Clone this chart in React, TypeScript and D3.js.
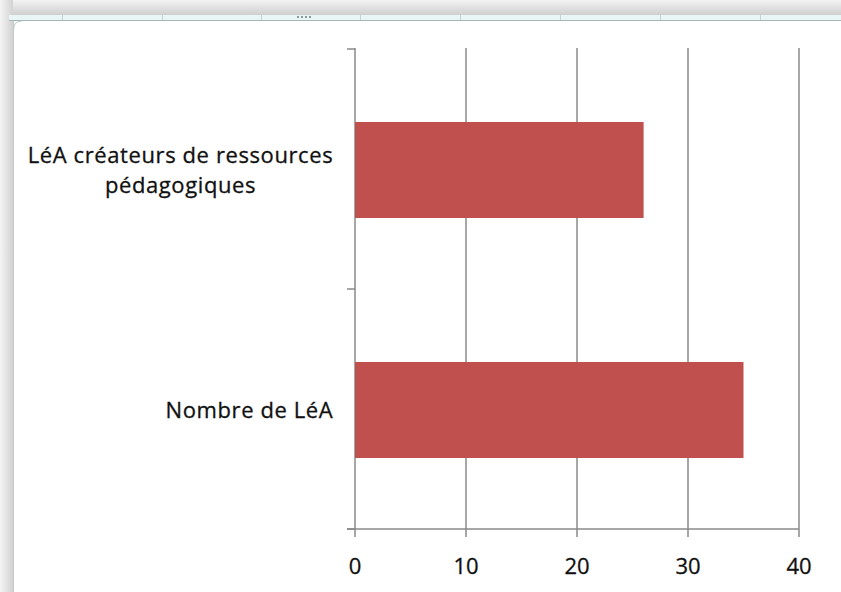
import React from "react";
import * as d3 from "d3";

const categories = ["LéA créateurs de ressources pédagogiques", "Nombre de LéA"];
const values = [26, 35];
const xTicks = [0, 10, 20, 30, 40];
const sheetColumnEdges = [62, 162, 261, 360, 460, 560, 660, 760];

const W = 841;
const H = 592;
const FONT = "'Open Sans', 'DejaVu Sans', sans-serif";
const FS = 22;
const LS = 0.6;

function measure(text: string): number {
  const c = document.createElement("canvas").getContext("2d");
  if (!c) return text.length * FS * 0.55;
  c.font = `${FS}px ${FONT}`;
  return c.measureText(text).width + LS * (text.length - 1);
}

function wrap(text: string, maxW: number): string[] {
  const words = text.split(" ");
  const lines: string[] = [];
  let cur = "";
  for (const w of words) {
    const t = cur ? cur + " " + w : w;
    if (measure(t) > maxW && cur) {
      lines.push(cur);
      cur = w;
    } else cur = t;
  }
  if (cur) lines.push(cur);
  return lines;
}

export default function App() {
  const x = d3.scaleLinear().domain([0, 40]).range([355, 799]);
  const y = d3.scaleBand<string>().domain(categories).range([49, 529]).padding(0);
  const bw = y.bandwidth();
  const labelRight = 333;
  const gridColor = "#8a8a8a";

  return (
    <svg
      width={W}
      height={H}
      style={{ position: "absolute", left: 0, top: 0, background: "#fff" }}
      fontFamily={FONT}
    >
      <defs>
        <linearGradient id="topShadow" x1="0" y1="0" x2="0" y2="1">
          <stop offset="0" stopColor="#f3f3f3" />
          <stop offset="1" stopColor="#cfcfcf" />
        </linearGradient>
        <linearGradient id="leftShadow" x1="0" y1="0" x2="1" y2="0">
          <stop offset="0" stopColor="#f4f4f4" />
          <stop offset="1" stopColor="#d2d2d2" />
        </linearGradient>
      </defs>
      <rect x={0} y={0} width={W} height={H} fill="#fff" />
      <rect x={0} y={0} width={W} height={15} fill="url(#topShadow)" />
      <rect x={0} y={0} width={13} height={H} fill="url(#leftShadow)" />
      <rect x={9} y={15} width={W - 9} height={5} fill="#e9f6f6" />
      {sheetColumnEdges.map((cx) => (
        <line key={cx} x1={cx + 0.5} x2={cx + 0.5} y1={15} y2={20} stroke="#c5d3d3" />
      ))}
      {[297, 301, 305, 309].map((dx) => (
        <rect key={dx} x={dx} y={16} width={2} height={2} fill="#8f9a9a" />
      ))}
      <line x1={9} x2={W} y1={20.5} y2={20.5} stroke="#aab4b4" />
      <line x1={13.5} x2={13.5} y1={21} y2={H} stroke="#c9c9c9" />
      <path d="M13.5,30 Q13.5,21 22,21" fill="none" stroke="#b9c9c9" />

      {xTicks.slice(1).map((t) => (
        <line key={t} x1={x(t)} x2={x(t)} y1={48} y2={537} stroke={gridColor} strokeWidth={1.5} />
      ))}
      <line x1={x(0)} x2={x(0)} y1={48} y2={537} stroke={gridColor} strokeWidth={1.5} />
      {[...categories.map((c) => y(c) as number), 529].map((ty, i) => (
        <line key={i} x1={347} x2={x(0)} y1={ty} y2={ty} stroke={gridColor} strokeWidth={1.5} />
      ))}
      <line x1={347} x2={x(40)} y1={529} y2={529} stroke={gridColor} strokeWidth={1.5} />

      {categories.map((c, i) => (
        <rect
          key={c}
          x={x(0)}
          y={(y(c) as number) + bw * 0.3 + 1}
          width={x(values[i]) - x(0)}
          height={bw * 0.4}
          fill="#C0504D"
        />
      ))}

      {categories.map((c) => {
        const lines = wrap(c, 320);
        const blockW = Math.max(...lines.map(measure));
        const cx = labelRight - blockW / 2;
        const cy = (y(c) as number) + bw / 2 + 1;
        const lh = 30;
        const first = cy - ((lines.length - 1) * lh) / 2;
        return (
          <text
            key={c}
            fontSize={FS}
            fill="#111"
            stroke="#111"
            strokeWidth={0.3}
            letterSpacing={LS}
            textAnchor="middle"
          >
            {lines.map((l, j) => (
              <tspan key={j} x={cx} y={first + j * lh} dy="0.35em">
                {l}
              </tspan>
            ))}
          </text>
        );
      })}

      {xTicks.map((t) => (
        <text
          key={t}
          x={x(t)}
          y={574}
          fontSize={FS}
          fill="#111"
          stroke="#111"
          strokeWidth={0.3}
          textAnchor="middle"
        >
          {t}
        </text>
      ))}
    </svg>
  );
}
